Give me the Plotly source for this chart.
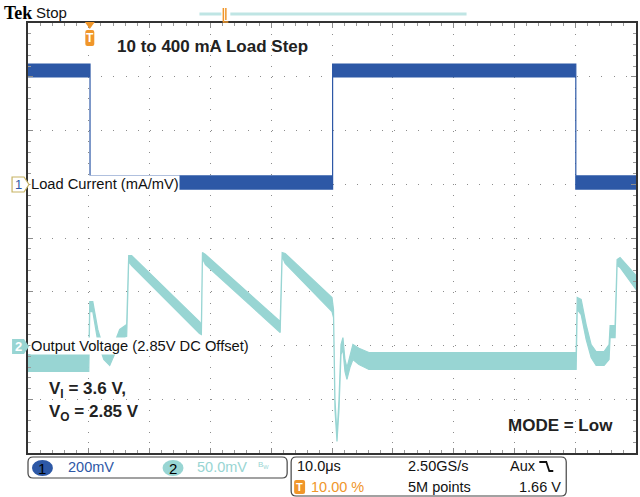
import plotly.graph_objects as go

# ---------------- data ----------------
# Channel 1: load current (mA), noise-band envelope
t_ch1 = [-10, 0.2, 0.2, 40.1, 40.1, 80.1, 80.1, 90]
ch1_upper = [447, 447, 31, 31, 447, 447, 31, 31]
ch1_lower = [399, 399, -18, -18, 399, 399, -18, -18]

# Channel 2: output voltage deviation (mV, AC around 2.85 V), noise-band envelope
t_ch2 = [-10, 0.0, 0.16, 0.66, 1.48, 2.46, 3.44, 4.43, 5.08, 6.23, 6.56, 7.05,
         18.2, 18.52, 18.69, 19.18, 31.48, 31.8, 32.3, 40.0, 40.25, 40.49,
         40.82, 41.15, 41.48, 41.8, 42.13, 42.46, 42.95, 43.44, 44.43, 46.07,
         80.16, 80.33, 80.98, 81.8, 82.62, 83.44, 84.75, 85.57, 85.74, 86.56,
         86.89, 87.38, 90]
ch2_upper = [-8.4, -8.4, 40.9, 40.9, 14.9, -3.7, -9.3, 5.6, 14.9, 19.5, 83.7, 83.7,
             22.3, 19.5, 86.5, 84.6, 22.3, 86.5, 85.6, 44.7, 33.5, -50.2,
             -82.8, -50.2, 0.9, 7.4, -13.0, -20.5, -8.4, 0.9, -2.5, -6.5,
             -6.5, 44.7, 42.8, 19.5, 0.9, -5.6, -5.6, 0.9, 18.6, 18.6,
             80.0, 81.9, 65.1]
ch2_lower = [-24.2, -24.2, 31.6, 31.6, 3.7, -13.0, -18.6, -5.6, 5.6, 8.4, 78.1, 74.4,
             11.2, 10.2, 80.9, 75.3, 12.1, 82.8, 76.3, 31.6, 26.0, -59.5,
             -89.3, -59.5, -8.4, -3.7, -24.2, -31.6, -20.5, -13.0, -17.7, -22.3,
             -22.3, 33.5, 28.8, 5.6, -11.2, -18.6, -18.6, -13.0, 7.4, 7.4,
             74.4, 72.6, 52.1]

# scope settings
time_range = [-10, 90]      # us (10 us/div, trigger at 10 %)
ch2_range = [-100, 300]     # mV (50 mV/div, marker at -2 div)
ch1_range = [-1000, 600]    # mA (200 mA/div, marker at +1 div)

CH1 = "#2D58A6"
CH2 = "#98D5D3"
ORANGE = "#F0962A"
SCOPE_FONT = "Liberation Sans, Arial, sans-serif"
BOLD_FONT = "Liberation Sans, Arial, sans-serif"

W, H = 640, 497
ML, MR, MT, MB = 28, 2, 23, 44
PW, PH = W - ML - MR, H - MT - MB


def X(px):
    return (px - ML) / PW


def Y(py):
    return (H - MB - py) / PH


fig = go.Figure()
fig.add_trace(go.Scatter(
    x=t_ch1 + t_ch1[::-1], y=ch1_upper + ch1_lower[::-1],
    fill="toself", fillcolor=CH1, mode="lines",
    line=dict(color=CH1, width=1.2), yaxis="y2", hoverinfo="skip"))
fig.add_trace(go.Scatter(
    x=t_ch2 + t_ch2[::-1], y=ch2_upper + ch2_lower[::-1],
    fill="toself", fillcolor=CH2, mode="lines",
    line=dict(color=CH2, width=1.2), yaxis="y", hoverinfo="skip"))

axis_common = dict(
    showgrid=True, gridcolor="#8c8c8c", gridwidth=1, zeroline=False,
    showline=True, linecolor="#333333", linewidth=2, mirror="ticks",
    ticks="inside", ticklen=5, tickcolor="#8c8c8c", tickwidth=1,
    showticklabels=False, fixedrange=True,
)

fig.update_layout(
    width=W, height=H,
    margin=dict(l=ML, r=MR, t=MT, b=MB),
    paper_bgcolor="white", plot_bgcolor="white", showlegend=False,
    xaxis=dict(range=time_range, tick0=0, dtick=10, griddash="1px,9.75px",
               minor=dict(dtick=2, ticks="inside", ticklen=3, tickcolor="#9a9a9a", showgrid=False),
               **axis_common),
    yaxis=dict(range=ch2_range, tick0=0, dtick=50, griddash="1px,11.2px",
               minor=dict(dtick=10, ticks="inside", ticklen=3, tickcolor="#9a9a9a", showgrid=False),
               **axis_common),
    yaxis2=dict(range=ch1_range, overlaying="y", visible=False, fixedrange=True),
)


def txt(text, px, py, size, color="#111111", family=SCOPE_FONT, xanchor="left",
        yanchor="middle", bg=None, xref="paper", yref="paper", x=None, y=None):
    d = dict(text=text, x=X(px) if x is None else x, y=Y(py) if y is None else y,
             xref=xref, yref=yref, xanchor=xanchor, yanchor=yanchor,
             showarrow=False, font=dict(size=size, color=color, family=family),
             borderpad=0)
    if bg:
        d["bgcolor"] = bg
    return d


def P(points, close=True):
    s = ""
    for i, (px, py) in enumerate(points):
        s += ("M" if i == 0 else "L") + f"{X(px):.5f},{Y(py):.5f} "
    return s + ("Z" if close else "")


def rrect(x0, y0, x1, y1, r):
    c = lambda a, b: f"{X(a):.5f},{Y(b):.5f}"
    return (f"M{c(x0 + r, y0)} L{c(x1 - r, y0)} Q{c(x1, y0)} {c(x1, y0 + r)} "
            f"L{c(x1, y1 - r)} Q{c(x1, y1)} {c(x1 - r, y1)} L{c(x0 + r, y1)} "
            f"Q{c(x0, y1)} {c(x0, y1 - r)} L{c(x0, y0 + r)} Q{c(x0, y0)} {c(x0 + r, y0)} Z")


shapes = []
ann = []

# header
ann.append(txt("<b>Tek</b>", 3, 13, 18, "#000000", "Liberation Serif, DejaVu Serif, serif"))
ann.append(txt("Stop", 35, 13, 15, "#111111"))
# record view bar
shapes.append(dict(type="line", xref="paper", yref="paper", x0=X(200), x1=X(222), y0=Y(14), y1=Y(14),
                   line=dict(color="#BFE5E4", width=3)))
shapes.append(dict(type="line", xref="paper", yref="paper", x0=X(231), x1=X(468), y0=Y(14), y1=Y(14),
                   line=dict(color="#BFE5E4", width=3)))
shapes.append(dict(type="path", xref="paper", yref="paper",
                   path=P([(224, 8), (224, 22), (229, 22)], close=False),
                   line=dict(color=ORANGE, width=1.5)))
shapes.append(dict(type="path", xref="paper", yref="paper",
                   path=P([(226.5, 8), (226.5, 20)], close=False),
                   line=dict(color=ORANGE, width=1.5)))

# trigger position marker
shapes.append(dict(type="path", xref="paper", yref="paper",
                   path=P([(85, 22), (95, 22), (90, 29)]), fillcolor=ORANGE, line=dict(width=0)))
shapes.append(dict(type="path", xref="paper", yref="paper",
                   path=rrect(85.5, 30, 94.5, 46, 2), fillcolor=ORANGE, line=dict(width=0)))
ann.append(txt("<b>T</b>", 90, 38, 12, "white", BOLD_FONT, xanchor="center"))

# channel markers
shapes.append(dict(type="path", xref="paper", yref="paper",
                   path=P([(12, 177), (24, 177), (29, 184.5), (24, 192), (12, 192)]),
                   fillcolor="white", line=dict(color="#C8B464", width=1.2)))
ann.append(txt("1", 18, 184.5, 13, CH1, SCOPE_FONT, xanchor="center"))
shapes.append(dict(type="path", xref="paper", yref="paper",
                   path=P([(12, 339), (24, 339), (29, 346.5), (24, 354), (12, 354)]),
                   fillcolor=CH2, line=dict(width=0)))
ann.append(txt("<b>2</b>", 18, 346.5, 13, "white", SCOPE_FONT, xanchor="center"))

# channel labels (white background hides trace behind)
ann.append(txt("Load Current (mA/mV)", 30, 0, 14.7, "#111111", bg="white",
               yref="y2", y=0))
ann.append(txt("Output Voltage (2.85V DC Offset)", 30, 0, 14.7, "#111111", bg="white",
               yref="y", y=0))

# bold annotations
ann.append(txt("<b>10 to 400 mA Load Step</b>", 116, 46, 17, "#222222", BOLD_FONT))
ann.append(txt("<b>V<sub>I</sub> = 3.6 V,</b>", 48, 390, 17, "#222222", BOLD_FONT))
ann.append(txt("<b>V<sub>O</sub> = 2.85 V</b>", 48, 413, 17, "#222222", BOLD_FONT))
ann.append(txt("<b>MODE = Low</b>", 509, 425, 17, "#222222", BOLD_FONT))

# bottom readout boxes
shapes.append(dict(type="path", xref="paper", yref="paper", path=rrect(28, 457, 288, 478, 5),
                   fillcolor="white", line=dict(color="#444444", width=1.2)))
shapes.append(dict(type="path", xref="paper", yref="paper", path=rrect(292, 457, 568, 496, 5),
                   fillcolor="white", line=dict(color="#444444", width=1.2)))
shapes.append(dict(type="circle", xref="paper", yref="paper", x0=X(32), x1=X(53), y0=Y(476), y1=Y(460),
                   fillcolor=CH1, line=dict(width=0)))
ann.append(txt("1", 42.5, 468, 15, "#000000", xanchor="center"))
ann.append(txt("200mV", 67, 467, 14.5, CH1))
shapes.append(dict(type="circle", xref="paper", yref="paper", x0=X(163), x1=X(184), y0=Y(476), y1=Y(460),
                   fillcolor=CH2, line=dict(width=0)))
ann.append(txt("2", 173.5, 468, 15, "#000000", xanchor="center"))
ann.append(txt("50.0mV", 197, 467, 14.5, CH2))
ann.append(txt("B<sub>W</sub>", 258, 465, 8, CH2))

ann.append(txt("10.0\u03bcs", 297, 466, 14.5, "#111111"))
ann.append(txt("2.50GS/s", 408, 466, 14.5, "#111111"))
ann.append(txt("Aux", 511, 466, 14.5, "#111111"))
shapes.append(dict(type="path", xref="paper", yref="paper",
                   path=P([(541, 462), (548, 462), (551, 471), (555, 471)], close=False),
                   line=dict(color="#111111", width=1.8)))
shapes.append(dict(type="path", xref="paper", yref="paper", path=rrect(295, 480, 306, 494, 2),
                   fillcolor=ORANGE, line=dict(width=0)))
ann.append(txt("<b>T</b>", 300.5, 487, 11, "white", BOLD_FONT, xanchor="center"))
ann.append(txt("10.00 %", 311, 487, 14.5, ORANGE))
ann.append(txt("5M points", 408, 487, 14.5, "#111111"))
ann.append(txt("1.66 V", 520, 487, 14.5, "#111111"))

fig.update_layout(shapes=shapes, annotations=ann)

fig.write_html("out.html", config={"displayModeBar": False, "staticPlot": True},
               post_script="document.body.style.margin='0';document.body.style.overflow='hidden';")
